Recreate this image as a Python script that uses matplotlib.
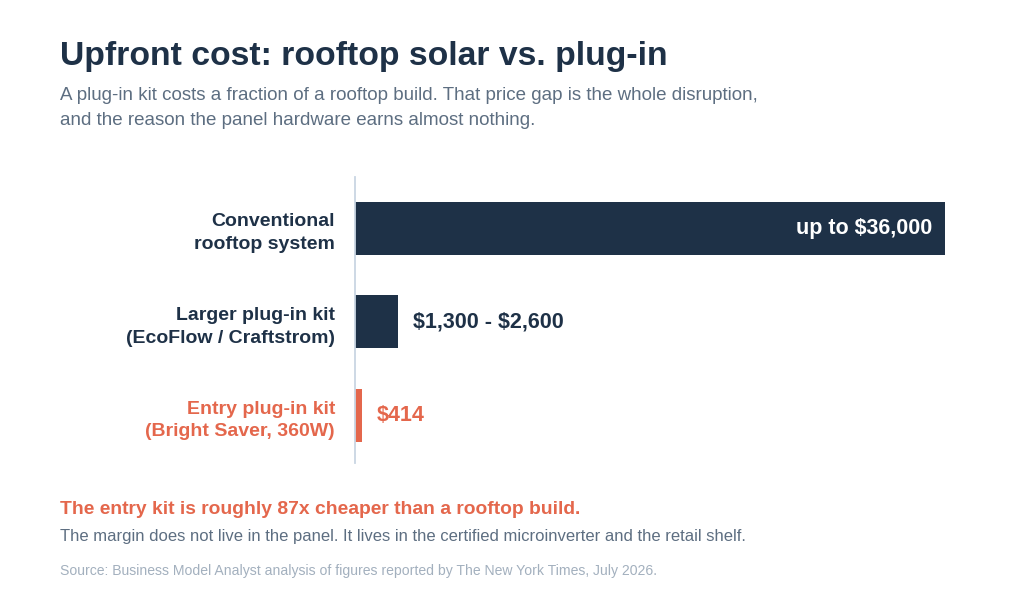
import matplotlib
matplotlib.use("Agg")
import matplotlib.pyplot as plt
from matplotlib.transforms import offset_copy

plt.rcParams['font.family'] = ['Liberation Sans', 'DejaVu Sans']
plt.rcParams['text.parse_math'] = False

categories = ["Conventional\nrooftop system", "Larger plug-in kit\n(EcoFlow / Craftstrom)", "Entry plug-in kit\n(Bright Saver, 360W)"]
values = [36000, 2600, 414]
value_labels = ["up to $36,000", "$1,300 - $2,600", "$414"]
highlight = [False, False, True]

NAVY = "#1e3147"
ORANGE = "#e4674c"
GRAY = "#5d6e81"
LIGHT = "#a3b0be"
AXIS = "#c9d6e3"

fig = plt.figure(figsize=(10.24, 5.91), dpi=100)
fig.patch.set_facecolor("white")

ax = fig.add_axes([355/1024, 1-463/591, 590/1024, 286/591])
ypos = list(range(len(categories)))
colors = [ORANGE if h else NAVY for h in highlight]
ax.barh(ypos, values, height=0.566, color=colors, align="center")
ax.set_xlim(0, max(values))
ax.set_ylim(2.507, -0.548)

for s in ["top", "right", "bottom"]:
    ax.spines[s].set_visible(False)
ax.spines["left"].set_color(AXIS)
ax.spines["left"].set_linewidth(1.3)
ax.set_xticks([])
ax.set_yticks(ypos)
ax.set_yticklabels(categories, fontsize=14, fontweight="bold", linespacing=1.45)
ax.tick_params(axis="y", length=0, pad=14.4)
for lbl, h in zip(ax.get_yticklabels(), highlight):
    lbl.set_color(ORANGE if h else NAVY)

for i, (v, lab, h) in enumerate(zip(values, value_labels, highlight)):
    if v > max(values) * 0.5:
        t = offset_copy(ax.transData, fig=fig, x=-13, y=0, units="dots")
        ax.text(v, i, lab, transform=t, ha="right", va="center", color="white",
                fontsize=15.5, fontweight="bold")
    else:
        t = offset_copy(ax.transData, fig=fig, x=15, y=0, units="dots")
        ax.text(v, i, lab, transform=t, ha="left", va="center",
                color=ORANGE if h else NAVY, fontsize=15.5, fontweight="bold")

fig.text(60/1024, 1-65/591, "Upfront cost: rooftop solar vs. plug-in", fontsize=24.3,
         fontweight="bold", color=NAVY, ha="left", va="baseline")
fig.text(60/1024, 1-100/591, "A plug-in kit costs a fraction of a rooftop build. That price gap is the whole disruption,",
         fontsize=13.5, color=GRAY, ha="left", va="baseline")
fig.text(60/1024, 1-125/591, "and the reason the panel hardware earns almost nothing.",
         fontsize=13.5, color=GRAY, ha="left", va="baseline")

fig.text(60/1024, 1-514/591, "The entry kit is roughly 87x cheaper than a rooftop build.",
         fontsize=13.9, fontweight="bold", color=ORANGE, ha="left", va="baseline")
fig.text(60/1024, 1-541.5/591, "The margin does not live in the panel. It lives in the certified microinverter and the retail shelf.",
         fontsize=12, color=GRAY, ha="left", va="baseline")
fig.text(60/1024, 1-575.5/591, "Source: Business Model Analyst analysis of figures reported by The New York Times, July 2026.",
         fontsize=10.1, color=LIGHT, ha="left", va="baseline")

fig.savefig("out.png", dpi=100, facecolor="white")
